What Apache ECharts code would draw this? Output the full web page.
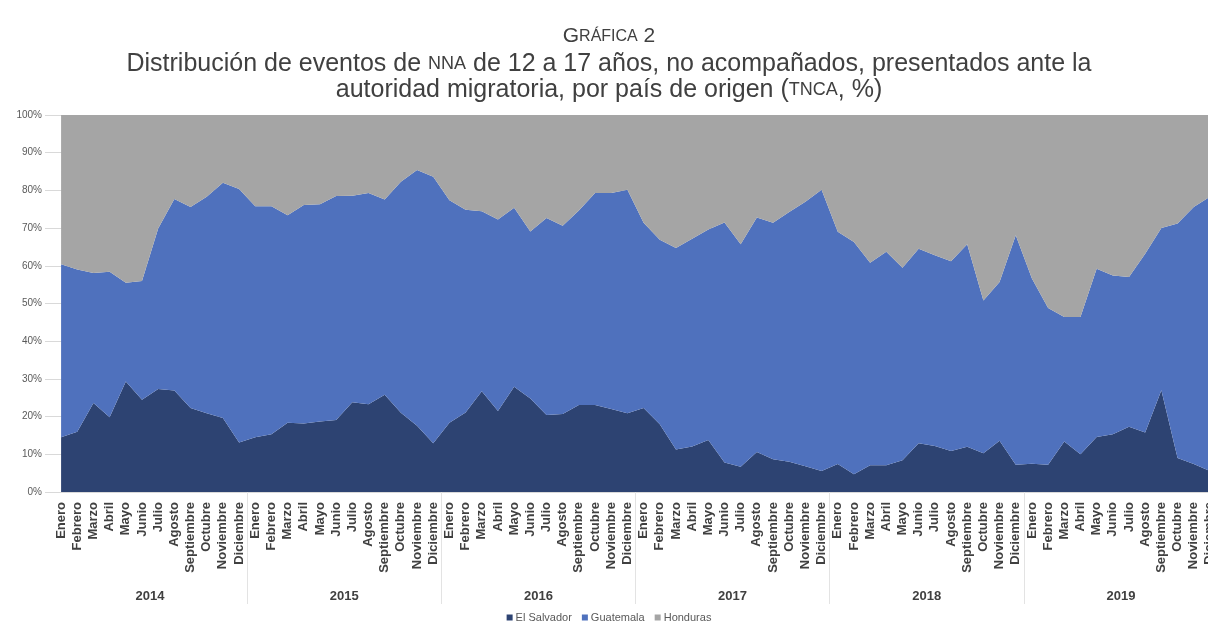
<!DOCTYPE html>
<html>
<head>
<meta charset="utf-8">
<script src="https://cdn.jsdelivr.net/npm/echarts@6/dist/echarts.min.js"></script>
<style>
html,body{margin:0;padding:0;background:#fff;overflow:hidden;width:1208px;height:624px;}
#frame{position:absolute;left:10px;top:10px;width:1px;height:614px;background:#e3e3e3;}
#chart{position:absolute;left:0;top:0;width:1218px;height:624px;}
</style>
</head>
<body>
<div id="frame"></div>
<div id="chart"></div>
<script>
const years = ['2014','2015','2016','2017','2018','2019'];
const monthNames = ['Enero','Febrero','Marzo','Abril','Mayo','Junio','Julio','Agosto','Septiembre','Octubre','Noviembre','Diciembre'];
const yTicks = ['0%','10%','20%','30%','40%','50%','60%','70%','80%','90%','100%'];

const elSalvador = [
  14.5,16.0,23.6,19.8,29.3,24.5,27.3,26.9,22.3,20.9,19.6,13.1,
  14.5,15.3,18.4,18.2,18.7,19.1,23.8,23.3,25.8,21.0,17.6,12.9,
  18.4,21.1,26.7,21.5,27.9,24.8,20.4,20.7,23.1,23.1,22.0,20.9,
  22.3,18.0,11.3,12.1,13.8,7.8,6.7,10.6,8.7,8.0,6.8,5.6,
  7.4,4.7,7.1,7.1,8.4,12.9,12.2,10.9,12.0,10.3,13.6,7.2,
  7.5,7.2,13.4,10.0,14.6,15.3,17.3,15.8,27.0,9.0,7.4,5.6
];
const guatemala = [
  45.9,43.0,34.5,38.6,26.2,31.5,42.6,50.8,53.3,57.4,62.4,67.3,
  61.3,60.5,55.0,57.9,57.6,59.4,54.8,56.0,51.8,61.3,67.8,70.7,
  59.0,53.8,47.8,50.8,47.5,44.3,52.3,49.9,51.6,56.2,57.3,59.3,
  49.1,48.9,53.4,55.1,55.8,63.7,59.0,62.2,62.7,66.3,70.2,74.6,
  61.6,61.6,53.7,56.6,51.1,51.6,50.6,50.3,53.7,40.5,42.1,60.9,
  49.1,41.6,33.0,36.4,44.6,42.1,39.7,47.4,43.0,62.2,68.2,72.7
];
const honduras = [
  39.6,41.0,41.9,41.6,44.5,44.0,30.1,22.3,24.4,21.7,18.0,19.6,
  24.2,24.2,26.6,23.9,23.7,21.5,21.4,20.7,22.4,17.7,14.6,16.4,
  22.6,25.1,25.5,27.7,24.6,30.9,27.3,29.4,25.3,20.7,20.7,19.8,
  28.6,33.1,35.3,32.8,30.4,28.5,34.3,27.2,28.6,25.7,23.0,19.8,
  31.0,33.7,39.2,36.3,40.5,35.5,37.2,38.8,34.3,49.2,44.3,31.9,
  43.4,51.2,53.6,53.6,40.8,42.6,43.0,36.8,30.0,28.8,24.4,21.7
];

const categories = [];
years.forEach(y => monthNames.forEach(m => categories.push(m)));
const yearTickPos = [12,24,36,48,60];
const yearLabelPos = [6,18,30,42,54,66];

const FONT = "'Liberation Sans', Arial, sans-serif";
const TXT = '#404040';

function richT(big, small){
  return {rich:{
    a:{fontSize:big,color:TXT,fontFamily:FONT,fontWeight:'normal'},
    b:{fontSize:small,color:TXT,fontFamily:FONT,fontWeight:'normal'}
  }};
}

const chart = echarts.init(document.getElementById('chart'), null, {renderer:'canvas'});
chart.setOption({
  animation:false,
  backgroundColor:'#fff',
  textStyle:{fontFamily:FONT},
  title:[
    {text:'{a|G}{b|RÁFICA}{a| 2}', left:'center', top:21, textStyle:richT(21,16)},
    {text:'{a|Distribución de eventos de }{b|NNA}{a| de 12 a 17 años, no acompañados, presentados ante la}', left:'center', top:47, textStyle:richT(25,18)},
    {text:'{a|autoridad migratoria, por país de origen (}{b|TNCA}{a|, %)}', left:'center', top:73, textStyle:richT(25,18)}
  ],
  legend:{
    top:607, left:'center', icon:'rect', itemWidth:6, itemHeight:6, itemGap:10,
    textStyle:{fontSize:11,color:'#595959',fontFamily:FONT,padding:[0,0,0,-2]},
    data:['El Salvador','Guatemala','Honduras']
  },
  grid:{left:53,right:0,top:115,bottom:132,containLabel:false},
  xAxis:[
    {type:'category', data:categories, boundaryGap:true,
     axisLine:{show:true,lineStyle:{color:'#d9d9d9'}},
     axisTick:{show:false},
     axisLabel:{interval:0, rotate:90, margin:10, fontSize:13, fontWeight:'bold', color:TXT, fontFamily:FONT},
     splitLine:{show:false}},
    {type:'value', position:'bottom', min:0, max:72,
     axisLine:{show:false},
     axisTick:{show:true, customValues:yearTickPos, length:112, inside:false, lineStyle:{color:'#e3e3e3'}},
     axisLabel:{show:true, customValues:yearLabelPos, margin:98, fontSize:13, fontWeight:'bold', color:TXT, fontFamily:FONT,
       formatter:function(v){return years[Math.round((v-6)/12)];}},
     splitLine:{show:false}}
  ],
  yAxis:{type:'value', min:0, max:100, interval:10,
    axisLine:{show:false},
    axisTick:{show:true,length:8,lineStyle:{color:'#d9d9d9'}},
    axisLabel:{margin:11, fontSize:10, color:'#595959', fontFamily:FONT,
      formatter:function(v){return yTicks[Math.round(v/10)];}},
    splitLine:{show:true,lineStyle:{color:'#d9d9d9'}}},
  series:[
    {name:'El Salvador', type:'line', stack:'t', data:elSalvador, symbol:'none', lineStyle:{width:0}, areaStyle:{color:'#2D4372',opacity:1}, itemStyle:{color:'#2D4372'}},
    {name:'Guatemala', type:'line', stack:'t', data:guatemala, symbol:'none', lineStyle:{width:0}, areaStyle:{color:'#4F71BD',opacity:1}, itemStyle:{color:'#4F71BD'}},
    {name:'Honduras', type:'line', stack:'t', data:honduras, symbol:'none', lineStyle:{width:0}, areaStyle:{color:'#A5A5A5',opacity:1}, itemStyle:{color:'#A5A5A5'}}
  ]
});
</script>
</body>
</html>
